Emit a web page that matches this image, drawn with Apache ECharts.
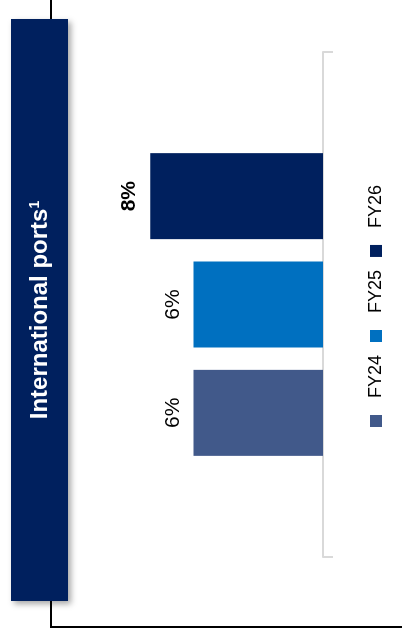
<!DOCTYPE html>
<html>
<head>
<meta charset="utf-8">
<script src="https://cdn.jsdelivr.net/npm/echarts@6/dist/echarts.min.js"></script>
<style>
  html, body { margin: 0; padding: 0; background: #ffffff; overflow: hidden; }
  #wrap { position: absolute; left: 0; top: 0; width: 402px; height: 637px; overflow: hidden; }
  #chart {
    position: absolute; left: 0; top: 0;
    width: 637px; height: 402px;
    transform-origin: 0 0;
    transform: translate(0px, 637px) rotate(-90deg);
  }
</style>
</head>
<body>
<div id="wrap"><div id="chart"></div></div>
<script>
// ---- data ----
const titleText = 'International ports';
const titleSup = '1';
const categories = ['International ports'];
const seriesNames = ['FY24', 'FY25', 'FY26'];
const fy24Values = [6];
const fy25Values = [6];
const fy26Values = [8];
const seriesColors = ['#41598A', '#0070C0', '#00205E'];

const FONT = 'Arial, "Liberation Sans", Helvetica, sans-serif';

const chart = echarts.init(document.getElementById('chart'), null, { renderer: 'canvas', width: 637, height: 402 });

function barSeries(name, values, color, bold) {
  return {
    name: name,
    type: 'bar',
    data: values,
    barWidth: 86,
    barGap: '26%',
    itemStyle: { color: color },
    label: {
      show: true,
      position: 'top',
      distance: 10,
      formatter: '{c}%',
      fontFamily: FONT,
      fontSize: 21,
      fontWeight: bold ? 'bold' : 'normal',
      color: '#000000'
    },
    emphasis: { disabled: true }
  };
}

chart.setOption({
  animation: false,
  backgroundColor: '#ffffff',
  grid: { left: 80, right: 52, top: 107, bottom: 79 },
  xAxis: {
    type: 'category',
    data: categories,
    axisLine: { show: true, lineStyle: { color: '#d9d9d9', width: 2 } },
    axisTick: { show: true, length: 10, lineStyle: { color: '#d9d9d9', width: 2 } },
    axisLabel: { show: false },
    splitLine: { show: false }
  },
  yAxis: { type: 'value', min: 0, max: 10, show: false },
  legend: {
    data: seriesNames,
    top: 367,
    left: 210,
    padding: 0,
    icon: 'rect',
    itemWidth: 12,
    itemHeight: 12,
    itemGap: 13,
    selectedMode: false,
    textStyle: { fontFamily: FONT, fontSize: 18, color: '#000000', padding: [0, 0, 0, 12] }
  },
  graphic: [
    { type: 'line', shape: { x1: 10, y1: 51, x2: 637, y2: 51 }, style: { stroke: '#000000', lineWidth: 2 }, z: 1 },
    { type: 'line', shape: { x1: 10, y1: 50, x2: 10, y2: 402 }, style: { stroke: '#000000', lineWidth: 2 }, z: 1 },
    {
      type: 'rect', shape: { x: 36, y: 11, width: 582, height: 57 },
      style: { fill: '#00205E', shadowBlur: 6, shadowOffsetX: -3, shadowOffsetY: 3, shadowColor: 'rgba(0,0,0,0.35)' },
      z: 5
    },
    {
      type: 'text', x: 327, y: 40, z: 6,
      style: {
        text: '{a|' + titleText + '}{s|' + titleSup + '}',
        align: 'center', verticalAlign: 'middle',
        rich: {
          a: { fontFamily: FONT, fontSize: 24, fontWeight: 'bold', fill: '#ffffff', verticalAlign: 'bottom' },
          s: { fontFamily: FONT, fontSize: 14, fontWeight: 'bold', fill: '#ffffff', verticalAlign: 'top' }
        }
      }
    }
  ],
  series: [
    barSeries(seriesNames[0], fy24Values, seriesColors[0], false),
    barSeries(seriesNames[1], fy25Values, seriesColors[1], false),
    barSeries(seriesNames[2], fy26Values, seriesColors[2], true)
  ]
});
</script>
</body>
</html>
